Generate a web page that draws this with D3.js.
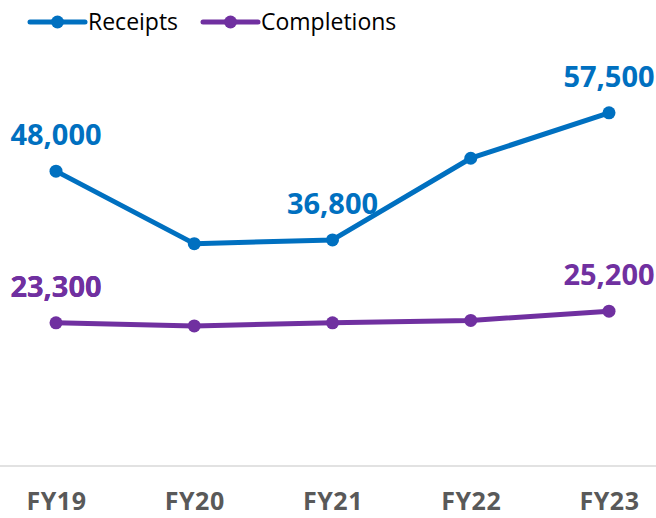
<!DOCTYPE html>
<html>
<head>
<meta charset="utf-8">
<script src="https://cdn.jsdelivr.net/npm/d3@7"></script>
<style>
  body { margin: 0; background: #fff; }
  svg { font-family: "Open Sans", sans-serif; }
</style>
</head>
<body>
<svg id="chart" width="656" height="518"></svg>
<script>
// chart data
var years = ["FY19", "FY20", "FY21", "FY22", "FY23"];
var receipts = [48000, 36200, 36800, 50100, 57500];
var completions = [23300, 22800, 23300, 23700, 25200];
var labelled = ["FY19", "FY21", "FY23"];

var svg = d3.select("#chart"),
	width = 656,
	height = 518;

var x = d3.scalePoint()
	.domain(years)
	.range([56, 609]);

var y = d3.scaleLinear()
	.domain([0, 70000])
	.range([466, 36]);

var series = [
	{ name: "Receipts", values: receipts, color: "#0070C0" },
	{ name: "Completions", values: completions, color: "#7030A0" }
];

// baseline
svg.append("line")
	.attr("x1", 0).attr("x2", width)
	.attr("y1", y(0)).attr("y2", y(0))
	.style("stroke", "#d9d9d9")
	.style("stroke-width", 1.5);

// category labels
var xAxis = svg.append("g")
	.attr("transform", "translate(0," + y(0) + ")")
	.call(d3.axisBottom(x).tickSize(0));
xAxis.select(".domain").remove();
xAxis.selectAll("text")
	.attr("y", 44)
	.attr("dy", null)
	.style("font-size", "25px")
	.style("letter-spacing", "0.5px")
	.style("font-weight", "bold")
	.style("fill", "#595959")
	.style("font-family", "'Open Sans', sans-serif");

var line = d3.line()
	.x(function(d, i) { return x(years[i]); })
	.y(function(d) { return y(d); });

series.forEach(function(s) {
	var g = svg.append("g");
	g.append("path")
		.attr("d", line(s.values))
		.style("fill", "none")
		.style("stroke", s.color)
		.style("stroke-width", 5)
		.style("stroke-linejoin", "round");
	g.selectAll("circle")
		.data(s.values)
		.enter().append("circle")
		.attr("cx", function(d, i) { return x(years[i]); })
		.attr("cy", function(d) { return y(d); })
		.attr("r", 6.5)
		.style("fill", s.color);
	g.selectAll("text")
		.data(s.values.filter(function(d, i) { return labelled.indexOf(years[i]) >= 0; }))
		.enter().append("text")
		.attr("x", function(d) { return x(years[s.values.indexOf(d)]); })
		.attr("y", function(d) { return y(d) - 26; })
		.attr("text-anchor", "middle")
		.style("font-size", "29px")
		.style("font-weight", "bold")
		.style("fill", s.color)
		.text(function(d) { return d3.format(",")(d); });
});

// legend
var legendX = [30, 203];
series.forEach(function(s, i) {
	var lg = svg.append("g")
		.attr("transform", "translate(" + legendX[i] + ",22)");
	lg.append("line")
		.attr("x1", 0).attr("x2", 55)
		.style("stroke", s.color)
		.style("stroke-width", 5)
		.style("stroke-linecap", "round");
	lg.append("circle")
		.attr("cx", 27.5)
		.attr("r", 6.5)
		.style("fill", s.color);
	lg.append("text")
		.attr("x", 58)
		.attr("y", 8)
		.style("font-size", "23px")
		.style("fill", "#000")
		.text(s.name);
});
</script>
</body>
</html>
